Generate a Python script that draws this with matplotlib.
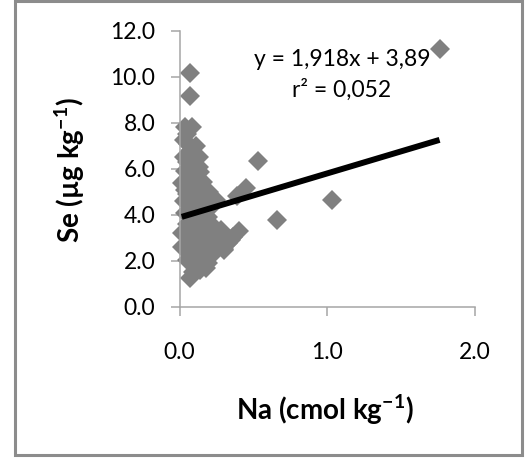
import matplotlib
matplotlib.use('Agg')
import matplotlib.pyplot as plt
from matplotlib.patches import Rectangle

# Na (cmol kg-1) vs Se (ug kg-1)
na = [1.76, 1.03, 0.66, 0.53, 0.45, 0.39, 0.40, 0.36, 0.33, 0.30, 0.28, 0.26,
      0.07, 0.07, 0.04, 0.085, 0.05, 0.03, 0.06, 0.03, 0.075, 0.13, 0.10, 0.035,
      0.14, 0.08, 0.02, 0.16, 0.20, 0.10, 0.06, 0.12, 0.075, 0.245, 0.18, 0.14,
      0.05, 0.22, 0.19, 0.12, 0.035, 0.08, 0.15, 0.015, 0.10, 0.16, 0.35, 0.30,
      0.23, 0.19, 0.14, 0.07, 0.05, 0.12, 0.10, 0.065, 0.05, 0.20, 0.24, 0.22,
      0.17, 0.13, 0.09, 0.06, 0.15, 0.10, 0.20, 0.27, 0.31, 0.18, 0.08, 0.12,
      0.10, 0.16, 0.02, 0.03, 0.04, 0.11, 0.09, 0.13, 0.05, 0.11, 0.21, 0.17,
      0.25, 0.14, 0.09, 0.18]
se = [11.2, 4.65, 3.78, 6.36, 5.16, 4.82, 3.30, 3.05, 2.80, 2.50, 3.35, 2.65,
      10.19, 9.19, 7.84, 7.84, 7.5, 7.26, 7.1, 6.53, 6.83, 6.53, 6.4, 5.9,
      5.88, 6.0, 5.38, 5.45, 5.01, 5.2, 5.6, 5.6, 4.6, 4.65, 4.8, 4.9,
      4.9, 4.4, 3.93, 4.3, 4.1, 4.0, 3.7, 2.62, 2.9, 3.2, 2.9, 2.48,
      2.35, 1.9, 1.6, 1.25, 2.05, 2.2, 3.5, 3.1, 3.6, 3.0, 3.1, 2.7,
      2.6, 2.7, 2.4, 2.8, 2.0, 1.8, 2.2, 3.0, 3.1, 3.4, 3.3, 3.9,
      4.5, 4.2, 3.2, 4.6, 5.1, 5.0, 5.7, 6.1, 6.3, 7.0, 3.6, 4.5,
      2.9, 3.4, 1.5, 1.7]

# linear trend shown on the chart
slope = 1.918
intercept = 3.89
eq_text = 'y = 1,918x + 3,89'
r2_text = 'r² = 0,052'

plt.rcParams['font.family'] = ['Lato', 'DejaVu Sans']
plt.rcParams['mathtext.fontset'] = 'custom'
plt.rcParams['mathtext.rm'] = 'Lato'
plt.rcParams['mathtext.bf'] = 'Lato:bold'

fig = plt.figure(figsize=(5.26, 4.61), dpi=100)
ax = fig.add_axes([0.3413, 0.3341, 0.5618, 0.5987])

ax.plot(na, se, 'D', color='#808080', ms=10, mew=0, clip_on=False, zorder=2)

x0, x1 = min(na), max(na)
ax.plot([x0, x1], [slope * x0 + intercept, slope * x1 + intercept],
        color='black', lw=4.3, solid_capstyle='butt', zorder=3)

ax.text(1.10, 10.78, eq_text, ha='center', va='center', fontsize=16.5)
ax.text(1.10, 9.43, r2_text, ha='center', va='center', fontsize=16.5)

ax.set_xlim(0, 2)
ax.set_ylim(0, 12)
ax.set_xticks([0, 1, 2])
ax.set_xticklabels(['0.0', '1.0', '2.0'])
ax.set_yticks(range(0, 13, 2))
ax.set_yticklabels(['%.1f' % v for v in range(0, 13, 2)])

for s in ['top', 'right']:
    ax.spines[s].set_visible(False)
for s in ['left', 'bottom']:
    ax.spines[s].set_color('#a6a6a6')
    ax.spines[s].set_linewidth(1.1)
ax.tick_params(axis='both', colors='#a6a6a6', width=1.1, length=6.5,
               labelcolor='black', labelsize=16.5)
ax.tick_params(axis='y', pad=11)
ax.tick_params(axis='x', pad=19)

fig.text(325 / 526, 1 - 410 / 461, r'Na (cmol kg$^{\mathbf{-1}}$)',
         ha='center', va='center', fontsize=20, fontweight='bold')
fig.text(70 / 526, 1 - 170 / 461, r'Se (µg kg$^{\mathbf{-1}}$)',
         ha='center', va='center', fontsize=20, fontweight='bold', rotation=90)

# grey frame around the chart
fig.patches.append(Rectangle((14.5 / 526, 1 - 454.5 / 461), 507 / 526, 453 / 461,
                             transform=fig.transFigure, fill=False,
                             edgecolor='#8c8c8c', lw=2.2))

fig.savefig('out.png', dpi=100)
